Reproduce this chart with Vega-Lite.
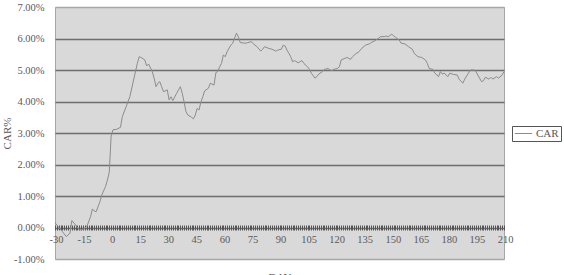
{
  "$schema": "https://vega.github.io/schema/vega-lite/v6.json",
  "width": 449,
  "height": 252,
  "autosize": {"type": "none"},
  "padding": {"left": 55, "top": 7, "right": 60, "bottom": 16},
  "background": "white",
  "config": {
    "view": {"fill": "#d9d9d9", "stroke": "#a6a6a6", "strokeWidth": 1},
    "font": "Liberation Serif"
  },
  "data": {
    "values": [
      {"day": -30, "car": 0.15}, {"day": -26, "car": -0.13}, {"day": -24, "car": -0.29}, {"day": -22, "car": -0.18},
      {"day": -21, "car": 0.22}, {"day": -19, "car": 0.08}, {"day": -17, "car": -0.08}, {"day": -15, "car": -0.06},
      {"day": -13, "car": 0.03}, {"day": -11, "car": 0.34}, {"day": -10, "car": 0.59}, {"day": -9, "car": 0.52},
      {"day": -8, "car": 0.50}, {"day": -6, "car": 0.82}, {"day": -5, "car": 1.03}, {"day": -3, "car": 1.30},
      {"day": -2, "car": 1.50}, {"day": -1, "car": 1.75}, {"day": 0, "car": 2.90}, {"day": 1, "car": 3.10},
      {"day": 3, "car": 3.12}, {"day": 5, "car": 3.18}, {"day": 6, "car": 3.52}, {"day": 8, "car": 3.83},
      {"day": 10, "car": 4.15}, {"day": 12, "car": 4.68}, {"day": 14, "car": 5.21}, {"day": 15, "car": 5.42},
      {"day": 16, "car": 5.40}, {"day": 18, "car": 5.32}, {"day": 19, "car": 5.13}, {"day": 20, "car": 5.19},
      {"day": 22, "car": 4.95}, {"day": 23, "car": 4.74}, {"day": 24, "car": 4.47}, {"day": 25, "car": 4.58},
      {"day": 26, "car": 4.63}, {"day": 27, "car": 4.47}, {"day": 28, "car": 4.31}, {"day": 30, "car": 4.37},
      {"day": 31, "car": 4.05}, {"day": 32, "car": 4.15}, {"day": 33, "car": 4.03}, {"day": 35, "car": 4.26},
      {"day": 36, "car": 4.37}, {"day": 37, "car": 4.47}, {"day": 38, "car": 4.26}, {"day": 39, "car": 3.99},
      {"day": 40, "car": 3.68}, {"day": 41, "car": 3.57}, {"day": 43, "car": 3.50}, {"day": 44, "car": 3.45},
      {"day": 45, "car": 3.57}, {"day": 46, "car": 3.78}, {"day": 47, "car": 3.73}, {"day": 48, "car": 3.99},
      {"day": 49, "car": 4.15}, {"day": 50, "car": 4.34}, {"day": 52, "car": 4.42}, {"day": 53, "car": 4.58},
      {"day": 55, "car": 4.52}, {"day": 56, "car": 4.92}, {"day": 57, "car": 4.95}, {"day": 58, "car": 5.10},
      {"day": 59, "car": 5.21}, {"day": 60, "car": 5.48}, {"day": 61, "car": 5.42}, {"day": 62, "car": 5.58},
      {"day": 64, "car": 5.79}, {"day": 65, "car": 5.85}, {"day": 66, "car": 6.01}, {"day": 67, "car": 6.17},
      {"day": 68, "car": 6.06}, {"day": 69, "car": 5.87}, {"day": 72, "car": 5.85}, {"day": 73, "car": 5.87},
      {"day": 75, "car": 5.90}, {"day": 76, "car": 5.83}, {"day": 78, "car": 5.74}, {"day": 80, "car": 5.60},
      {"day": 81, "car": 5.66}, {"day": 82, "car": 5.74}, {"day": 84, "car": 5.69}, {"day": 86, "car": 5.66},
      {"day": 88, "car": 5.60}, {"day": 89, "car": 5.63}, {"day": 91, "car": 5.66}, {"day": 92, "car": 5.79},
      {"day": 93, "car": 5.76}, {"day": 94, "car": 5.63}, {"day": 95, "car": 5.53}, {"day": 96, "car": 5.42},
      {"day": 97, "car": 5.26}, {"day": 98, "car": 5.30}, {"day": 100, "car": 5.23}, {"day": 102, "car": 5.30},
      {"day": 103, "car": 5.21}, {"day": 105, "car": 5.10}, {"day": 106, "car": 5.02}, {"day": 107, "car": 4.90},
      {"day": 109, "car": 4.74}, {"day": 110, "car": 4.79}, {"day": 111, "car": 4.87}, {"day": 113, "car": 4.95},
      {"day": 114, "car": 5.02}, {"day": 116, "car": 5.05}, {"day": 117, "car": 5.00}, {"day": 118, "car": 4.98},
      {"day": 119, "car": 5.02}, {"day": 121, "car": 5.05}, {"day": 122, "car": 5.10}, {"day": 123, "car": 5.32},
      {"day": 125, "car": 5.37}, {"day": 126, "car": 5.40}, {"day": 128, "car": 5.34}, {"day": 129, "car": 5.42},
      {"day": 131, "car": 5.53}, {"day": 132, "car": 5.55}, {"day": 134, "car": 5.69}, {"day": 136, "car": 5.79},
      {"day": 138, "car": 5.83}, {"day": 139, "car": 5.87}, {"day": 141, "car": 5.93}, {"day": 143, "car": 6.01},
      {"day": 144, "car": 6.06}, {"day": 146, "car": 6.06}, {"day": 147, "car": 6.08}, {"day": 148, "car": 6.05},
      {"day": 150, "car": 6.14}, {"day": 151, "car": 6.08}, {"day": 152, "car": 6.04}, {"day": 154, "car": 5.95},
      {"day": 155, "car": 5.85}, {"day": 157, "car": 5.83}, {"day": 159, "car": 5.74}, {"day": 161, "car": 5.66},
      {"day": 162, "car": 5.53}, {"day": 164, "car": 5.42}, {"day": 166, "car": 5.40}, {"day": 168, "car": 5.32},
      {"day": 169, "car": 5.21}, {"day": 170, "car": 5.05}, {"day": 172, "car": 5.02}, {"day": 173, "car": 4.90},
      {"day": 175, "car": 4.79}, {"day": 176, "car": 4.95}, {"day": 177, "car": 4.87}, {"day": 178, "car": 4.90},
      {"day": 180, "car": 4.79}, {"day": 181, "car": 4.90}, {"day": 183, "car": 4.86}, {"day": 185, "car": 4.84},
      {"day": 186, "car": 4.71}, {"day": 188, "car": 4.58}, {"day": 189, "car": 4.71}, {"day": 191, "car": 4.90},
      {"day": 192, "car": 5.00}, {"day": 194, "car": 5.00}, {"day": 195, "car": 4.95}, {"day": 196, "car": 4.84},
      {"day": 198, "car": 4.63}, {"day": 199, "car": 4.66}, {"day": 200, "car": 4.77}, {"day": 202, "car": 4.71},
      {"day": 203, "car": 4.77}, {"day": 204, "car": 4.71}, {"day": 206, "car": 4.79}, {"day": 207, "car": 4.74},
      {"day": 209, "car": 4.84}, {"day": 210, "car": 4.95}
    ]
  },
  "mark": {"type": "line", "strokeWidth": 1, "interpolate": "linear"},
  "encoding": {
    "x": {
      "field": "day",
      "type": "quantitative",
      "scale": {"domain": [-30, 210], "nice": false, "zero": false},
      "axis": {
        "title": "DAY",
        "offset": -34,
        "domain": false,
        "grid": false,
        "tickCount": 240,
        "tickSize": 5,
        "tickColor": "#555555",
        "tickWidth": 1,
        "labelExpr": "datum.value % 15 === 0 ? '' + datum.value : ''",
        "labelOverlap": false,
        "labelFlush": false,
        "labelPadding": 4,
        "labelOffset": 1,
        "labelFont": "Liberation Serif",
        "labelFontSize": 10.5,
        "labelColor": "#595959",
        "labelBaseline": "top",
        "titleFont": "Liberation Serif",
        "titleFontSize": 11,
        "titleFontWeight": "normal",
        "titleColor": "#595959",
        "titleY": 46,
        "titleBaseline": "top"
      }
    },
    "y": {
      "field": "car",
      "type": "quantitative",
      "scale": {"domain": [-1, 7], "nice": false, "zero": false},
      "axis": {
        "values": [-1, 0, 1, 2, 3, 4, 5, 6, 7],
        "title": "CAR%",
        "grid": true,
        "gridColor": {"condition": {"test": "datum.value === 7 || datum.value === -1", "value": "#a6a6a6"}, "value": "#6e6e6e"},
        "gridWidth": 1.5,
        "domain": false,
        "ticks": false,
        "tickSize": 0,
        "labelPadding": 11,
        "labelExpr": "(datum.value < 0 ? '-' : '') + format(abs(datum.value), '.2f') + '%'",
        "labelFont": "Liberation Serif",
        "labelFontSize": 10.5,
        "labelColor": "#595959",
        "titleFont": "Liberation Serif",
        "titleFontSize": 11,
        "titleFontWeight": "normal",
        "titleColor": "#595959",
        "titleX": -48,
        "titleY": 126,
        "titleAngle": -90,
        "titleAlign": "center",
        "titleBaseline": "middle"
      }
    },
    "color": {
      "datum": "CAR",
      "scale": {"range": ["#8c8c8c"]},
      "legend": {
        "orient": "none",
        "legendX": 457,
        "legendY": 119,
        "title": null,
        "symbolType": "stroke",
        "symbolSize": 300,
        "symbolStrokeWidth": 1,
        "symbolStrokeColor": "#8c8c8c",
        "clipHeight": 11,
        "strokeColor": "#555555",
        "fillColor": "white",
        "padding": 2,
        "labelOffset": 3,
        "labelFont": "Liberation Serif",
        "labelFontSize": 11,
        "labelColor": "#595959"
      }
    }
  }
}
